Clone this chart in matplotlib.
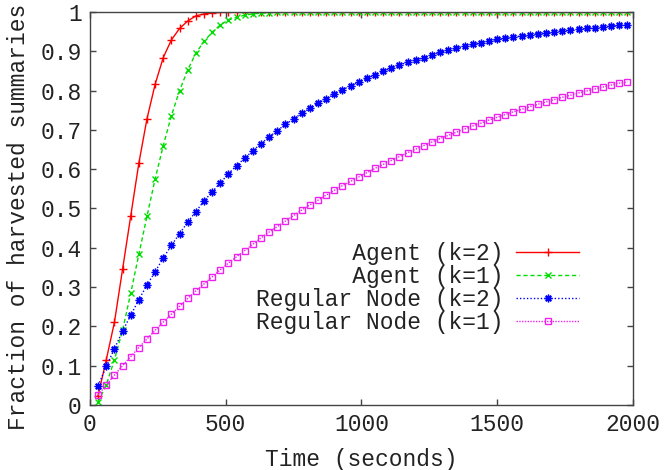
import matplotlib
matplotlib.use("Agg")
import matplotlib.pyplot as plt

# time samples (seconds)
time_s = [30, 60, 90, 120, 150, 180, 210, 240, 270, 300,
          330, 360, 390, 420, 450, 480, 510, 540, 570, 600,
          630, 660, 690, 720, 750, 780, 810, 840, 870, 900,
          930, 960, 990, 1020, 1050, 1080, 1110, 1140, 1170, 1200,
          1230, 1260, 1290, 1320, 1350, 1380, 1410, 1440, 1470, 1500,
          1530, 1560, 1590, 1620, 1650, 1680, 1710, 1740, 1770, 1800,
          1830, 1860, 1890, 1920, 1950, 1980]

agent_k2 = [0.024, 0.115, 0.210, 0.345, 0.480, 0.615, 0.728, 0.816, 0.884, 0.929,
            0.958, 0.977, 0.990, 0.995, 0.998, 0.999] + [1.0] * 50

agent_k1 = [0.008, 0.051, 0.115, 0.190, 0.284, 0.383, 0.480, 0.575, 0.660, 0.736,
            0.800, 0.852, 0.895, 0.925, 0.948, 0.967, 0.980, 0.986, 0.992, 0.995,
            0.997, 0.998, 0.999] + [1.0] * 43

regular_k2 = [0.049, 0.098, 0.143, 0.188, 0.228, 0.268, 0.305, 0.339, 0.374, 0.406,
              0.436, 0.465, 0.492, 0.519, 0.542, 0.565, 0.588, 0.609, 0.628, 0.647,
              0.665, 0.682, 0.698, 0.714, 0.728, 0.742, 0.755, 0.768, 0.779, 0.791,
              0.802, 0.812, 0.822, 0.831, 0.840, 0.849, 0.857, 0.865, 0.872, 0.878,
              0.884, 0.890, 0.897, 0.903, 0.908, 0.913, 0.918, 0.922, 0.926, 0.930,
              0.933, 0.936, 0.939, 0.942, 0.945, 0.947, 0.950, 0.952, 0.954, 0.956,
              0.958, 0.960, 0.962, 0.964, 0.966, 0.968]

regular_k1 = [0.026, 0.051, 0.076, 0.100, 0.123, 0.146, 0.168, 0.190, 0.211, 0.231,
              0.251, 0.271, 0.290, 0.308, 0.326, 0.344, 0.361, 0.377, 0.393, 0.409,
              0.425, 0.440, 0.454, 0.468, 0.482, 0.496, 0.509, 0.521, 0.534, 0.546,
              0.558, 0.569, 0.580, 0.591, 0.602, 0.612, 0.622, 0.632, 0.642, 0.651,
              0.660, 0.669, 0.678, 0.686, 0.694, 0.702, 0.710, 0.717, 0.725, 0.732,
              0.739, 0.746, 0.752, 0.759, 0.765, 0.771, 0.777, 0.783, 0.788, 0.794,
              0.799, 0.804, 0.809, 0.814, 0.819, 0.822]

labels = ["Agent (k=2)", "Agent (k=1)", "Regular Node (k=2)", "Regular Node (k=1)"]
x_ticks = [0, 500, 1000, 1500, 2000]
y_ticks = [0, 0.1, 0.2, 0.3, 0.4, 0.5, 0.6, 0.7, 0.8, 0.9, 1]
y_ticklabels = ["0", "0.1", "0.2", "0.3", "0.4", "0.5", "0.6", "0.7", "0.8", "0.9", "1"]

plt.rcParams["font.family"] = ["Liberation Mono", "DejaVu Sans Mono"]
plt.rcParams["font.size"] = 16.5

fig = plt.figure(figsize=(6.64, 4.70), dpi=100)
ax = fig.add_axes([0.1355, 0.1383, 0.8175, 0.8362])

# pad labels so the monospace legend text lines up on the right
width = max(len(s) for s in labels)
padded = [s.rjust(width) for s in labels]

ax.plot(time_s, agent_k2, color="#ff0000", lw=1, ls="-", marker="+",
        ms=5.5, mew=1, label=padded[0])
ax.plot(time_s, agent_k1, color="#00dd00", lw=1, ls=(0, (3, 2)), marker="x",
        ms=4.5, mew=1, label=padded[1])
ax.plot(time_s, regular_k2, color="#0000ff", lw=1, ls=(0, (1, 1.5)), marker=(8, 2, 0),
        ms=5.5, mew=1, label=padded[2])
ax.plot(time_s, regular_k1, color="#ee22ee", lw=1, ls=(0, (1, 1)), marker="s",
        ms=4.3, mew=1, mfc="none", label=padded[3])

ax.set_xlim(0, 2000)
ax.set_ylim(0, 1)
ax.set_xticks(x_ticks)
ax.set_yticks(y_ticks)
ax.set_yticklabels(y_ticklabels)
ax.tick_params(direction="in", length=4.5, width=1, top=True, right=True,
               colors="#444444", labelcolor="#222222", pad=6)
for sp in ax.spines.values():
    sp.set_color("#444444")
    sp.set_linewidth(1)

ax.set_xlabel("Time (seconds)", color="#222222", labelpad=8.5)
ax.set_ylabel("Fraction of harvested summaries", color="#222222", labelpad=7.5)
ax.yaxis.label.set_y(0.478)

leg = ax.legend(loc="lower right", bbox_to_anchor=(0.9305, 0.141), frameon=False,
                markerfirst=False, handlelength=2.75, handletextpad=0.55,
                labelspacing=0.0, borderpad=0.2, numpoints=1)
for t in leg.get_texts():
    t.set_color("#222222")

fig.savefig("out.png", dpi=100)
